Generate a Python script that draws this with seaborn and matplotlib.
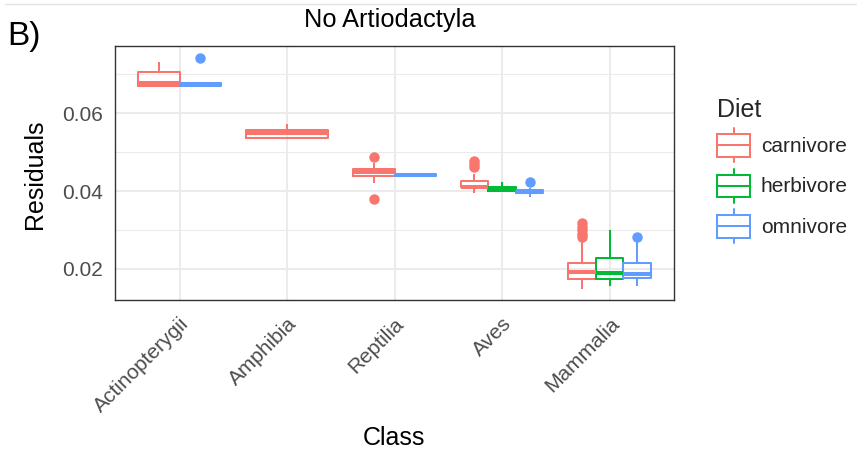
import numpy as np
import pandas as pd
import matplotlib
matplotlib.use("Agg")
import matplotlib.pyplot as plt
from matplotlib.patches import Rectangle, Patch
from matplotlib.lines import Line2D
from matplotlib.legend_handler import HandlerBase
import seaborn as sns

# Categories
classes = ["Actinopterygii", "Amphibia", "Reptilia", "Aves", "Mammalia"]
diets = ["carnivore", "herbivore", "omnivore"]
diet_colors = ["#F8766D", "#00BA38", "#619CFF"]

# Residuals per class / diet group
actinopterygii_carnivore = [0.0671, 0.0671, 0.0679, 0.0707, 0.0733]
actinopterygii_omnivore = [0.0667, 0.0671, 0.0675, 0.0679, 0.0743]
amphibia_carnivore = [0.0533, 0.0536, 0.0549, 0.0556, 0.0573]
reptilia_carnivore = [0.0379, 0.0420, 0.0440, 0.0444, 0.0448, 0.0452, 0.0456, 0.0472, 0.0487]
reptilia_omnivore = [0.0436, 0.0440, 0.0442, 0.0444, 0.0444]
aves_carnivore = [0.0395, 0.0400, 0.0403, 0.0406, 0.0410, 0.0410, 0.0410, 0.0410, 0.0410,
                  0.0413, 0.0417, 0.0421, 0.0425, 0.0445, 0.0462, 0.0470, 0.0478]
aves_herbivore = [0.0400, 0.0400, 0.0405, 0.0411, 0.0423]
aves_omnivore = [0.0386, 0.0392, 0.0395, 0.0397, 0.0399, 0.0401, 0.0403, 0.0409, 0.0424]
mammalia_carnivore = [0.0149, 0.0158, 0.0164, 0.0168, 0.0171, 0.0173, 0.0175, 0.0178, 0.0181,
                      0.0184, 0.0186, 0.0189, 0.0191, 0.0194, 0.0198, 0.0202, 0.0207, 0.0211,
                      0.0216, 0.0270, 0.0281, 0.0290, 0.0299, 0.0308, 0.0317]
mammalia_herbivore = [0.0157, 0.0166, 0.0174, 0.0181, 0.0189, 0.0205, 0.0228, 0.0262, 0.0300]
mammalia_omnivore = [0.0157, 0.0168, 0.0176, 0.0181, 0.0187, 0.0199, 0.0215, 0.0270, 0.0281]

groups = [
    ("Actinopterygii", "carnivore", actinopterygii_carnivore),
    ("Actinopterygii", "omnivore", actinopterygii_omnivore),
    ("Amphibia", "carnivore", amphibia_carnivore),
    ("Reptilia", "carnivore", reptilia_carnivore),
    ("Reptilia", "omnivore", reptilia_omnivore),
    ("Aves", "carnivore", aves_carnivore),
    ("Aves", "herbivore", aves_herbivore),
    ("Aves", "omnivore", aves_omnivore),
    ("Mammalia", "carnivore", mammalia_carnivore),
    ("Mammalia", "herbivore", mammalia_herbivore),
    ("Mammalia", "omnivore", mammalia_omnivore),
]
df = pd.DataFrame(
    [(c, d, v) for c, d, vals in groups for v in vals],
    columns=["Class", "Diet", "Residual"],
)

sns.set_theme(style="white")
plt.rcParams["font.family"] = ["Liberation Sans", "DejaVu Sans"]

W, H = 857, 459
fig = plt.figure(figsize=(W / 100, H / 100), dpi=100)
ax = fig.add_axes([115 / W, 1 - 300 / H, 559 / W, 254.3 / H])

palette = dict(zip(diets, diet_colors))
# one call per class so that each class splits its full width among the diets it has
for cls in classes:
    sub = df[df["Class"] == cls]
    present = [d for d in diets if d in set(sub["Diet"])]
    sns.boxplot(
        data=sub, x="Class", y="Residual", hue="Diet",
        order=classes, hue_order=present, palette=palette,
        fill=False, width=0.77, dodge=True, linewidth=1.45, whis=1.5,
        fliersize=6.5, medianprops={"linewidth": 2.9},
        capprops={"linewidth": 0}, flierprops={"marker": "o"},
        legend=False, ax=ax,
    )

# solid outlier dots
for line in ax.lines:
    if line.get_marker() == "o":
        line.set_markerfacecolor(line.get_markeredgecolor())

ax.set_xlim(-0.6, 4.6)
ax.set_ylim(0.01203, 0.07737)
ax.set_xlabel("")
ax.set_ylabel("")

ax.set_yticks([0.02, 0.04, 0.06])
ax.set_yticklabels(["0.02", "0.04", "0.06"])
ax.set_yticks([0.03, 0.05, 0.07], minor=True)
ax.set_xticks(range(len(classes)))
ax.set_xticklabels(classes, rotation=45, ha="right", va="top", rotation_mode="anchor")

ax.set_axisbelow(True)
ax.grid(True, which="major", axis="both", color="#ebebeb", linewidth=1.45)
ax.grid(True, which="minor", axis="y", color="#ebebeb", linewidth=0.75)
ax.tick_params(which="major", length=4.3, width=1.0, color="#333333",
               labelsize=15, labelcolor="#4d4d4d", pad=4.5)
ax.tick_params(axis="x", which="major", pad=6)
ax.tick_params(which="minor", length=0)
for sp in ax.spines.values():
    sp.set_visible(True)
    sp.set_color("#333333")
    sp.set_linewidth(1.0)


class BoxKeyHandler(HandlerBase):
    def create_artists(self, legend, orig_handle, xdescent, ydescent,
                       width, height, fontsize, trans):
        color = orig_handle.get_edgecolor()
        x0, y0 = -xdescent, -ydescent
        lo, hi = y0 + 0.17 * height, y0 + 0.83 * height
        xm = x0 + width / 2
        kw = dict(color=color, linewidth=1.45, transform=trans)
        rect = Rectangle((x0, lo), width, hi - lo, facecolor="white",
                         edgecolor=color, linewidth=1.45, transform=trans)
        med = Line2D([x0, x0 + width], [y0 + height / 2] * 2, **kw)
        w1 = Line2D([xm, xm], [y0, lo], **kw)
        w2 = Line2D([xm, xm], [hi, y0 + height], **kw)
        return [rect, med, w1, w2]


handles = [Patch(edgecolor=c, facecolor="white", label=d) for d, c in zip(diets, diet_colors)]
fig.legend(handles=handles, handler_map={Patch: BoxKeyHandler()},
           loc="upper left", bbox_to_anchor=(717 / W, 1 - 98 / H),
           frameon=False, title="Diet", title_fontsize=18, fontsize=15,
           handlelength=1.6, handleheight=2.15, labelspacing=0.3,
           handletextpad=0.5, borderpad=0, borderaxespad=0, alignment="left")

fig.text(389.5 / W, 1 - 27.3 / H, "No Artiodactyla", ha="center", va="baseline",
         fontsize=18.3, color="black")
fig.text(394.3 / W, 1 - 445 / H, "Class", ha="center", va="baseline",
         fontsize=18, color="black")
fig.text(35 / W, 1 - 174 / H, "Residuals", ha="center", va="center",
         rotation=90, fontsize=18, color="black")
fig.text(7 / W, 1 - 45 / H, "B)", ha="left", va="baseline", fontsize=24, color="black")

fig.add_artist(Line2D([0.006, 1.0], [1 - 4 / H] * 2, color="#e3e3e3", linewidth=1.0,
                      transform=fig.transFigure))

fig.savefig("out.png", dpi=100)
